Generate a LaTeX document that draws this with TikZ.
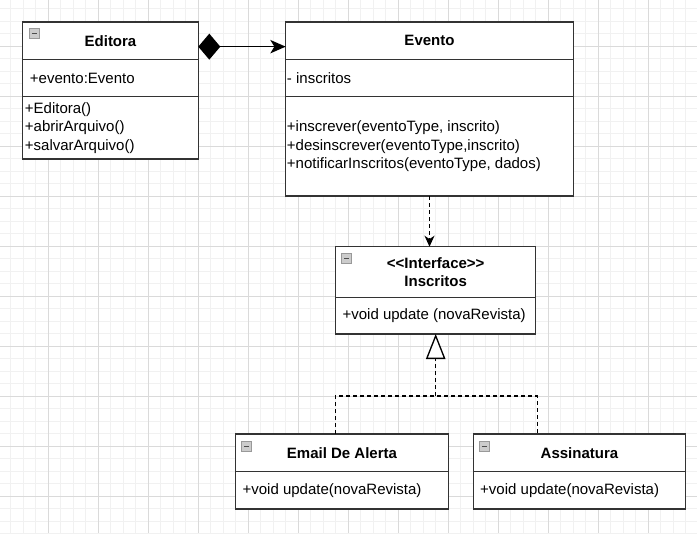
\documentclass[tikz,border=0pt]{standalone}
\usepackage{fontspec}
\setmainfont{Liberation Sans}
\usetikzlibrary{fit}
\usetikzlibrary{calc}
\usetikzlibrary{positioning}
\usetikzlibrary{arrows.meta}
\definecolor{gridminor}{HTML}{F1F1F1}
\definecolor{gridmajor}{HTML}{DADADA}
\definecolor{boxline}{HTML}{333333}

\begin{document}
\begin{tikzpicture}[
  x=0.75pt, y=-0.75pt,
  font=\fontsize{11.25}{13.75}\selectfont,
  compart/.style={draw=boxline, line width=1pt, fill=white, rectangle, inner sep=0pt, outer sep=0pt},
  classname/.style={font=\fontsize{11.25}{13.5}\selectfont\bfseries, align=center, inner sep=0pt},
  member/.style={anchor=west, align=left, inner sep=0pt},
  iconbox/.style={draw=gray!80, fill=gray!40, line width=0.6pt},
  iconbar/.style={draw=black!70, line width=1pt},
  conn/.style={line width=1.2pt, black},
  dep/.style={line width=1pt, black, dash pattern=on 3pt off 2.25pt},
]

\useasboundingbox (0,0) rectangle (697,533);
\clip (0,0) rectangle (697,533);
\fill[white] (0,0) rectangle (697,533);

\foreach \i in {0,...,55} {
  \draw[gridminor, line width=0.75pt] (10.5+12.5*\i,0) -- (10.5+12.5*\i,533);
}
\foreach \i in {0,...,42} {
  \draw[gridminor, line width=0.75pt] (0,8.5+12.5*\i) -- (697,8.5+12.5*\i);
}
\foreach \i in {0,...,13} {
  \draw[gridmajor, line width=0.75pt] (48+50*\i,0) -- (48+50*\i,533);
}
\foreach \i in {0,...,9} {
  \draw[gridmajor, line width=0.75pt] (0,46+50*\i) -- (697,46+50*\i);
}

\node (edHead) [compart, fit={(22.7,22) (198.3,59.3)}] {};
\node (edAttr) [compart, fit={(22.7,59.3) (198.3,96.7)}] {};
\node (edOps)  [compart, fit={(22.7,96.7) (198.3,159)}] {};
\node (edName) [classname] at (edHead) {Editora};
\node (edField) [member] at ([xshift=5.25pt]edAttr.west) {+evento:Evento};
\node (edMeth) [member] at ([xshift=1.5pt]edOps.west) {+Editora()\\+abrirArquivo()\\+salvarArquivo()};

\node (evHead) [compart, fit={(285.7,22) (573.3,59.3)}] {};
\node (evAttr) [compart, fit={(285.7,59.3) (573.3,96.7)}] {};
\node (evOps)  [compart, fit={(285.7,96.7) (573.3,196)}] {};
\node (evName) [classname] at (evHead) {Evento};
\node (evField) [member] at ([xshift=0.75pt]evAttr.west) {- inscritos};
\node (evMeth) [member] at ([xshift=0.75pt]evOps.west) {+inscrever(eventoType, inscrito)\\+desinscrever(eventoType,inscrito)\\+notificarInscritos(eventoType, dados)};

\node (inHead) [compart, fit={(335.7,246.7) (535.7,297.3)}] {};
\node (inOps)  [compart, fit={(335.7,297.3) (535.7,334)}] {};
\node (inName) [classname] at (inHead) {\textless\kern0pt\textless Interface\textgreater\kern0pt\textgreater\\Inscritos};
\node (inMeth) [member] at ([xshift=5pt]inOps.west) {+void update (novaRevista)};

\node (emHead) [compart, fit={(235.7,434) (448.3,471.7)}] {};
\node (emOps)  [compart, fit={(235.7,471.7) (448.3,509)}] {};
\node (emName) [classname] at (emHead) {Email De Alerta};
\node (emMeth) [member] at ([xshift=5pt]emOps.west) {+void update(novaRevista)};

\node (asHead) [compart, fit={(473.3,434) (685.7,471.7)}] {};
\node (asOps)  [compart, fit={(473.3,471.7) (685.7,509)}] {};
\node (asName) [classname] at (asHead) {Assinatura};
\node (asMeth) [member] at ([xshift=5pt]asOps.west) {+void update(novaRevista)};

\foreach \ix/\iy in {29.3/28.3, 341.7/253.8, 241.7/441.7, 479.3/441.7} {
  \draw[iconbox] (\ix,\iy) rectangle ++(10,10);
  \draw[iconbar] (\ix+2.5,\iy+5) -- ++(5,0);
}

\draw[conn, {Diamond[length=16.5pt, width=19.5pt]}-{Stealth[length=11.5pt, width=10pt, inset=3pt]}]
  ([yshift=-4.5pt]edHead.east) -- ([yshift=-4.5pt]evHead.west);

\draw[dep, -{Stealth[length=8.25pt, width=7.5pt, inset=2.5pt]}]
  (evOps.south) -- (evOps.south |- inHead.north);

\coordinate (split) at (435.7,396);
\draw[dep, -{Triangle[length=18.75pt, width=14.5pt, fill=white]}]
  (split) -- (inOps.south);
\draw[dep]
  ([xshift=-5pt]emHead.north) |- (split) -| ([xshift=-31.65pt]asHead.north);
\end{tikzpicture}
\end{document}
